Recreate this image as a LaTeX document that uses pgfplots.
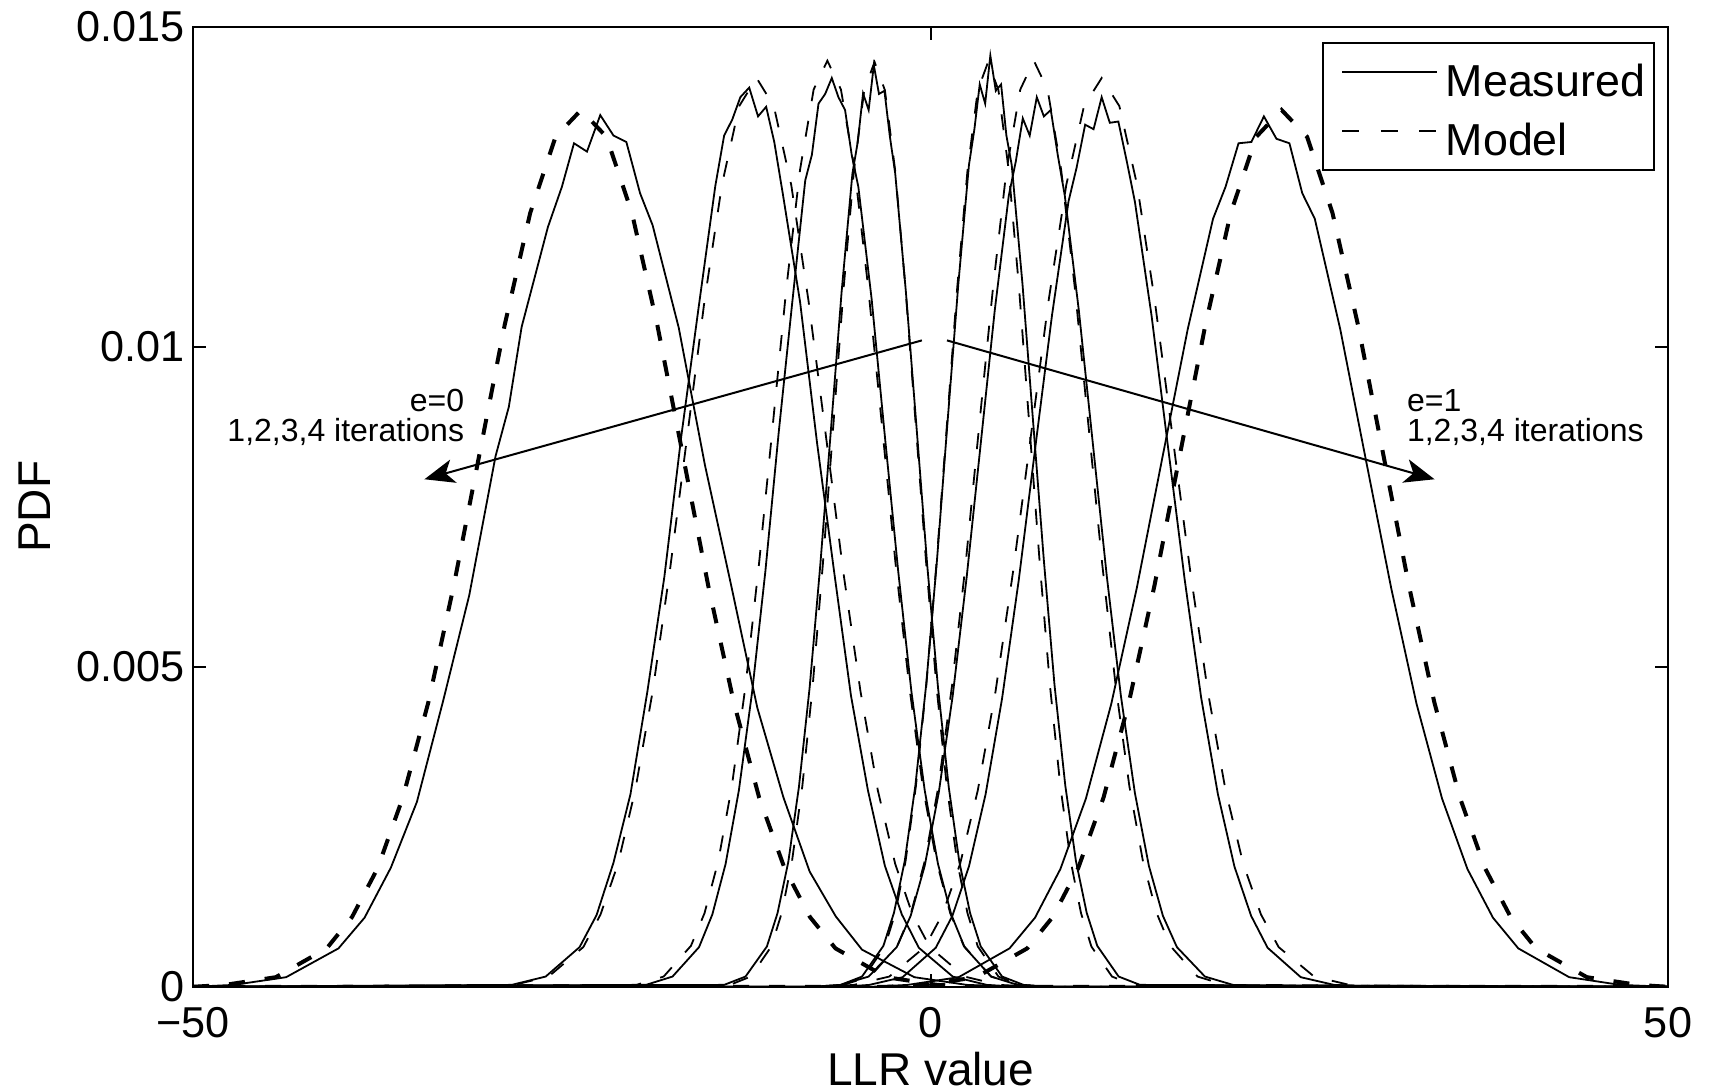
\documentclass[border=0pt]{standalone}
\usepackage{fontspec}
\setmainfont{Liberation Sans}
\usepackage{pgfplots}
\pgfplotsset{compat=1.18}
\usetikzlibrary{arrows.meta}

\pgfplotsset{
  meas/.style={black, line width=0.45pt, forget plot},
  mod/.style={black, line width=0.45pt, dash pattern=on 4pt off 5pt, forget plot},
  modthick/.style={mod, line width=1pt},
}

\begin{document}
\begin{tikzpicture}
\begin{axis}[
    scale only axis,
    width=368.7pt, height=240pt,
    xmin=-50, xmax=50, ymin=0, ymax=0.015,
    xtick={-50,0,50}, xticklabels={−50,0,50},
    ytick={0,0.005,0.01,0.015}, yticklabels={0,0.005,0.01,0.015},
    scaled y ticks=false,
    tick align=inside, major tick length=3.2pt,
    axis line style={line width=0.5pt}, tick style={line width=0.5pt, black},
    ticklabel style={font=\fontsize{10.8}{12}\selectfont},
    xticklabel style={anchor=base, inner sep=0pt, yshift=-12.8pt},
    yticklabel style={anchor=east, inner sep=0pt, xshift=-2pt},
    xlabel={LLR value}, ylabel={PDF},
    label style={font=\fontsize{11.5}{13}\selectfont, inner sep=0pt},
    xlabel style={at={(axis description cs:0.5,-0.1025)}, anchor=base},
    ylabel style={at={(axis description cs:-0.0966,0.5)}, anchor=base},
    legend style={at={(axis description cs:1,1)}, anchor=north east,
        xshift=-3.3pt, yshift=-3.75pt, draw=black, line width=0.5pt,
        font=\fontsize{11.2}{13}\selectfont, inner xsep=2.2pt, inner ysep=1.25pt,
        row sep=0.2pt, nodes={inner xsep=0pt, inner ysep=1pt}},
    legend cell align=left,
    legend image code/.code={\path (-2.55pt,0pt) (25.6pt,0pt); \draw[#1] (0pt,1.2pt) -- (23.6pt,1.2pt);},
]
\addlegendimage{black, line width=0.45pt}
\addlegendentry{\rule{0pt}{11.1pt}Measured}
\addlegendimage{black, line width=0.45pt, dash pattern=on 4.2pt off 5.4pt}
\addlegendentry{\rule{0pt}{11.1pt}Model}

% measured, e=0 (iterations 4,3,2,1 from left)
\addplot[meas] coordinates {(-50,0) (-47.25,0.00003) (-43.7,0.00015) (-40.15,0.0006) (-38.38,0.00108) (-36.6,0.00186) (-34.83,0.00289) (-33.05,0.00447) (-31.28,0.00612) (-29.5,0.00829) (-28.6,0.00906) (-27.73,0.01031) (-25.95,0.01187) (-25.0,0.0125) (-24.18,0.01318) (-23.3,0.01305) (-22.4,0.01362) (-21.5,0.0133) (-20.63,0.0132) (-19.7,0.0124) (-18.85,0.0119) (-17.08,0.0103) (-15.3,0.00815) (-13.53,0.00628) (-11.75,0.00436) (-9.98,0.00296) (-8.2,0.0018) (-6.43,0.0011) (-4.65,0.00058) (-1.1,0.00015) (2.45,0.00003) (6,0) (50,0)};
\addplot[meas] coordinates {(-50,0) (-28.4,0.00003) (-26.1,0.00016) (-23.8,0.00062) (-22.65,0.00112) (-21.5,0.00194) (-20.35,0.00301) (-19.2,0.00462) (-18.05,0.00641) (-16.9,0.00861) (-15.75,0.01058) (-14.6,0.01251) (-14.0,0.0133) (-13.45,0.01355) (-12.9,0.0139) (-12.3,0.01405) (-11.7,0.0136) (-11.15,0.01375) (-10.6,0.0132) (-10.0,0.01236) (-8.85,0.0107) (-7.7,0.0085) (-6.55,0.0065) (-5.4,0.00455) (-4.25,0.00307) (-3.1,0.00189) (-1.95,0.00113) (-0.8,0.00061) (1.5,0.00016) (3.8,0.00003) (6,0) (50,0)};
\addplot[meas] coordinates {(-50,0) (-19.3,0.00003) (-17.5,0.00016) (-15.7,0.00062) (-14.8,0.00113) (-13.9,0.00192) (-13.0,0.00307) (-12.1,0.00461) (-11.2,0.0065) (-10.3,0.00866) (-9.4,0.01065) (-8.5,0.0126) (-8.05,0.013) (-7.6,0.0138) (-7.15,0.01395) (-6.7,0.0142) (-6.25,0.0139) (-5.8,0.0137) (-5.35,0.013) (-4.9,0.0125) (-4.0,0.01075) (-3.1,0.0086) (-2.2,0.0065) (-1.3,0.00461) (-0.4,0.00307) (0.5,0.00192) (1.4,0.00113) (2.3,0.00062) (4.1,0.00016) (5.9,0.00003) (8,0) (50,0)};
\addplot[meas] coordinates {(-50,0) (-14.0,0.00003) (-12.55,0.00016) (-11.1,0.00063) (-10.38,0.00115) (-9.65,0.00195) (-8.93,0.00312) (-8.2,0.00468) (-7.48,0.00659) (-6.75,0.00873) (-6.03,0.01087) (-5.3,0.01271) (-4.94,0.0132) (-4.58,0.01396) (-4.2,0.0137) (-3.85,0.0144) (-3.5,0.01395) (-3.13,0.014) (-2.77,0.0133) (-2.4,0.01271) (-1.68,0.01087) (-0.95,0.00873) (-0.23,0.00659) (0.5,0.00468) (1.23,0.00312) (1.95,0.00195) (2.68,0.00115) (3.4,0.00063) (4.85,0.00016) (6.3,0.00003) (8,0) (50,0)};
% measured, e=1
\addplot[meas] coordinates {(-50,0) (-8,0) (-6.1,0.00003) (-4.65,0.00016) (-3.2,0.00064) (-2.48,0.00116) (-1.75,0.00197) (-1.03,0.00315) (-0.3,0.00472) (0.43,0.00666) (1.15,0.00883) (1.88,0.01098) (2.6,0.01284) (2.97,0.0134) (3.33,0.0141) (3.7,0.0138) (4.05,0.01455) (4.42,0.014) (4.78,0.0141) (5.14,0.0133) (5.5,0.01284) (6.23,0.01098) (6.95,0.00883) (7.68,0.00666) (8.4,0.00472) (9.13,0.00315) (9.85,0.00197) (10.58,0.00116) (11.3,0.00064) (12.75,0.00016) (14.2,0.00003) (50,0)};
\addplot[meas] coordinates {(-50,0) (-8,0) (-6.1,0.00003) (-4.2,0.00016) (-2.3,0.00062) (-1.35,0.00111) (-0.4,0.00189) (0.55,0.00303) (1.5,0.00455) (2.45,0.00641) (3.4,0.00849) (4.35,0.01057) (5.3,0.01236) (5.78,0.0129) (6.25,0.01357) (6.72,0.0133) (7.2,0.0139) (7.68,0.0136) (8.15,0.0137) (8.62,0.013) (9.1,0.01236) (10.05,0.01057) (11.0,0.00849) (11.95,0.00641) (12.9,0.00455) (13.85,0.00303) (14.8,0.00189) (15.75,0.00111) (16.7,0.00062) (18.6,0.00016) (20.5,0.00003) (23,0) (50,0)};
\addplot[meas] coordinates {(-50,0) (-6,0) (-4.15,0.00003) (-1.9,0.00015) (0.35,0.00061) (1.48,0.00111) (2.6,0.00188) (3.73,0.00301) (4.85,0.00451) (5.98,0.00636) (7.1,0.00843) (8.23,0.01049) (9.35,0.01227) (9.9,0.0128) (10.48,0.01347) (11.05,0.0134) (11.6,0.0139) (12.15,0.0135) (12.73,0.01352) (13.3,0.0129) (13.85,0.01227) (14.98,0.01049) (16.1,0.00843) (17.23,0.00636) (18.35,0.00451) (19.48,0.00301) (20.6,0.00188) (21.73,0.00111) (22.85,0.00061) (25.1,0.00015) (27.35,0.00003) (30,0) (50,0)};
\addplot[meas] coordinates {(-50,0) (-4,0) (-1.55,0.00003) (1.9,0.00015) (5.35,0.0006) (7.08,0.00108) (8.8,0.00184) (10.53,0.00294) (12.25,0.00442) (13.98,0.00623) (15.7,0.00825) (17.43,0.01027) (19.15,0.012) (20.0,0.0125) (20.88,0.01318) (21.75,0.0132) (22.6,0.0136) (23.45,0.01325) (24.33,0.01318) (25.2,0.0124) (26.05,0.012) (27.78,0.01027) (29.5,0.00825) (31.23,0.00623) (32.95,0.00442) (34.68,0.00294) (36.4,0.00184) (38.13,0.00108) (39.85,0.0006) (43.3,0.00015) (46.75,0.00003) (50,0)};

% model, e=0
\addplot[modthick] coordinates {(-50,0) (-47.85,0.00003) (-44.4,0.00015) (-40.95,0.0006) (-39.23,0.00109) (-37.5,0.00185) (-35.78,0.00296) (-34.05,0.00445) (-32.33,0.00627) (-30.6,0.00831) (-28.88,0.01034) (-27.15,0.01209) (-25.43,0.01328) (-23.7,0.0137) (-21.98,0.01328) (-20.25,0.01209) (-18.53,0.01034) (-16.8,0.00831) (-15.08,0.00627) (-13.35,0.00445) (-11.63,0.00296) (-9.9,0.00185) (-8.18,0.00109) (-6.45,0.0006) (-3.0,0.00015) (0.45,0.00003) (3,0) (50,0)};
\addplot[mod] coordinates {(-50,0) (-28.25,0.00003) (-25.9,0.00016) (-23.55,0.00062) (-22.38,0.00113) (-21.2,0.00192) (-20.03,0.00307) (-18.85,0.00461) (-17.68,0.0065) (-16.5,0.00861) (-15.33,0.01072) (-14.15,0.01253) (-12.98,0.01376) (-11.8,0.0142) (-10.63,0.01376) (-9.45,0.01253) (-8.28,0.01072) (-7.1,0.00861) (-5.93,0.0065) (-4.75,0.00461) (-3.58,0.00307) (-2.4,0.00192) (-1.23,0.00113) (-0.05,0.00062) (2.3,0.00016) (4.65,0.00003) (7,0) (50,0)};
\addplot[mod] coordinates {(-50,0) (-19.95,0.00003) (-18.1,0.00016) (-16.25,0.00064) (-15.33,0.00115) (-14.4,0.00196) (-13.48,0.00313) (-12.55,0.0047) (-11.63,0.00662) (-10.7,0.00878) (-9.78,0.01092) (-8.85,0.01277) (-7.93,0.01402) (-7.0,0.01447) (-6.08,0.01402) (-5.15,0.01277) (-4.23,0.01092) (-3.3,0.00878) (-2.38,0.00662) (-1.45,0.0047) (-0.53,0.00313) (0.4,0.00196) (1.33,0.00115) (2.25,0.00064) (4.1,0.00016) (5.95,0.00003) (8,0) (50,0)};
\addplot[mod] coordinates {(-50,0) (-13.6,0.00003) (-12.2,0.00016) (-10.8,0.00063) (-10.1,0.00115) (-9.4,0.00196) (-8.7,0.00313) (-8.0,0.00469) (-7.3,0.00662) (-6.6,0.00876) (-5.9,0.01091) (-5.2,0.01275) (-4.5,0.01401) (-3.8,0.01445) (-3.1,0.01401) (-2.4,0.01275) (-1.7,0.01091) (-1.0,0.00876) (-0.3,0.00662) (0.4,0.00469) (1.1,0.00313) (1.8,0.00196) (2.5,0.00115) (3.2,0.00063) (4.6,0.00016) (6.0,0.00003) (8,0) (50,0)};
% model, e=1
\addplot[mod] coordinates {(-50,0) (-8,0) (-5.9,0.00003) (-4.5,0.00016) (-3.1,0.00063) (-2.4,0.00115) (-1.7,0.00196) (-1.0,0.00313) (-0.3,0.00469) (0.4,0.00662) (1.1,0.00876) (1.8,0.01091) (2.5,0.01275) (3.2,0.01401) (3.9,0.01445) (4.6,0.01401) (5.3,0.01275) (6.0,0.01091) (6.7,0.00876) (7.4,0.00662) (8.1,0.00469) (8.8,0.00313) (9.5,0.00196) (10.2,0.00115) (10.9,0.00063) (12.3,0.00016) (13.7,0.00003) (50,0)};
\addplot[mod] coordinates {(-50,0) (-8,0) (-5.95,0.00003) (-4.1,0.00016) (-2.25,0.00064) (-1.33,0.00115) (-0.4,0.00196) (0.53,0.00313) (1.45,0.0047) (2.38,0.00662) (3.3,0.00878) (4.23,0.01092) (5.15,0.01277) (6.08,0.01402) (7.0,0.01447) (7.93,0.01402) (8.85,0.01277) (9.78,0.01092) (10.7,0.00878) (11.63,0.00662) (12.55,0.0047) (13.48,0.00313) (14.4,0.00196) (15.33,0.00115) (16.25,0.00064) (18.1,0.00016) (19.95,0.00003) (50,0)};
\addplot[mod] coordinates {(-50,0) (-7,0) (-5.2,0.00003) (-2.8,0.00016) (-0.4,0.00062) (0.8,0.00113) (2.0,0.00192) (3.2,0.00307) (4.4,0.00461) (5.6,0.0065) (6.8,0.00861) (8.0,0.01072) (9.2,0.01253) (10.4,0.01376) (11.6,0.0142) (12.8,0.01376) (14.0,0.01253) (15.2,0.01072) (16.4,0.00861) (17.6,0.0065) (18.8,0.00461) (20.0,0.00307) (21.2,0.00192) (22.4,0.00113) (23.6,0.00062) (26.0,0.00016) (28.4,0.00003) (31,0) (50,0)};
\addplot[modthick] coordinates {(-50,0) (-3,0) (-0.35,0.00003) (3.1,0.00015) (6.55,0.0006) (8.28,0.00109) (10.0,0.00185) (11.73,0.00296) (13.45,0.00445) (15.18,0.00627) (16.9,0.00831) (18.63,0.01034) (20.35,0.01209) (22.08,0.01328) (23.8,0.0137) (25.53,0.01328) (27.25,0.01209) (28.98,0.01034) (30.7,0.00831) (32.43,0.00627) (34.15,0.00445) (35.88,0.00296) (37.6,0.00185) (39.33,0.00109) (41.05,0.0006) (44.5,0.00015) (47.95,0.00003) (50,0)};

% annotations
\draw[line width=0.5pt, -{Stealth[length=7.5pt, width=6pt, inset=2pt]}] (axis cs:-0.59,0.0101) -- (axis cs:-34.32,0.00793);
\draw[line width=0.5pt, -{Stealth[length=7.5pt, width=6pt, inset=2pt]}] (axis cs:1.11,0.0101) -- (axis cs:34.17,0.00793);
\node[anchor=east, inner sep=0pt, font=\fontsize{8}{9}\selectfont] at (axis cs:-31.58,0.00916) {e=0};
\node[anchor=east, inner sep=0pt, font=\fontsize{8}{9}\selectfont] at (axis cs:-31.58,0.008667) {1,2,3,4 iterations};
\node[anchor=west, inner sep=0pt, font=\fontsize{8}{9}\selectfont] at (axis cs:32.25,0.00916) {e=1};
\node[anchor=west, inner sep=0pt, font=\fontsize{8}{9}\selectfont] at (axis cs:32.25,0.008667) {1,2,3,4 iterations};
\end{axis}
\pgfresetboundingbox
\path ([shift={(-48.3pt,-25.8pt)}]current axis.south west) rectangle ([shift={(10.75pt,6.7pt)}]current axis.north east);
\end{tikzpicture}
\end{document}
